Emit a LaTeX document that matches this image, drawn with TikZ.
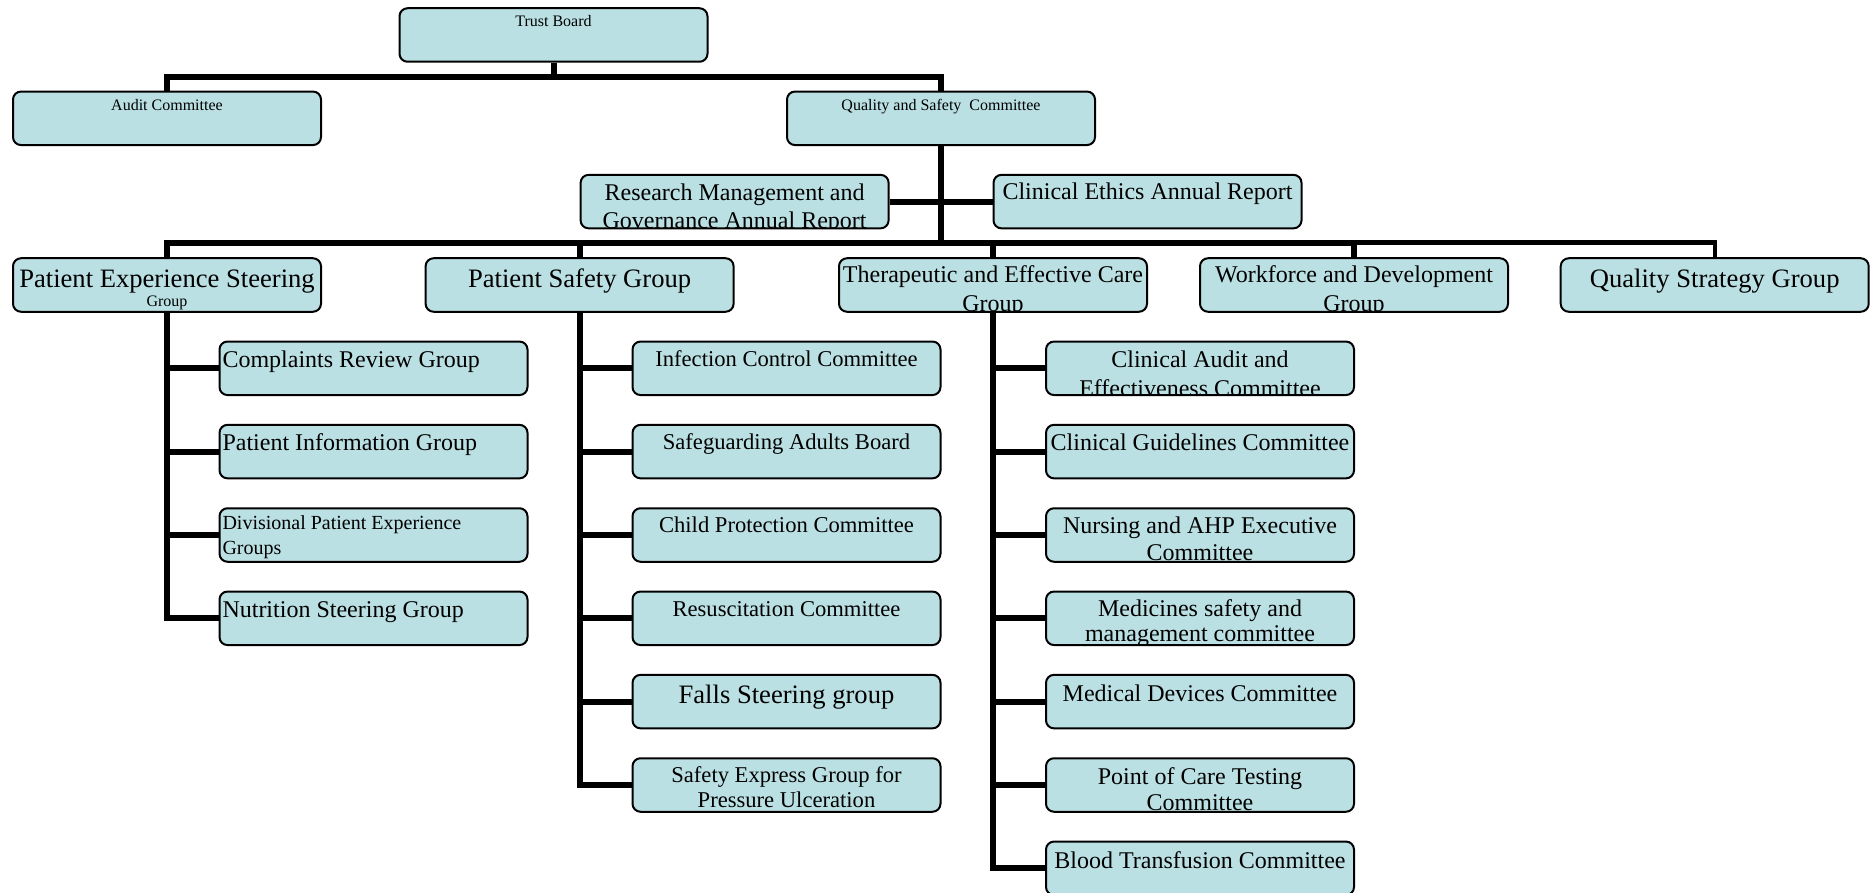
\documentclass[tikz,border=0pt]{standalone}
\usepackage{fontspec}
\setmainfont{Liberation Serif}
\usetikzlibrary{backgrounds}
\definecolor{boxfill}{RGB}{187,224,227}
\tikzset{
  box/.style={shape=rectangle, draw=black, line width=2pt, fill=boxfill,
    rounded corners=8pt, minimum width=308pt, minimum height=53.5pt, inner sep=0pt},
  boxtext/.style={inner sep=0pt, minimum width=0pt, minimum height=0pt, draw=none, fill=none},
  conn/.style={draw=black, line width=6pt, line join=miter, line cap=butt},
  thinconn/.style={draw=black, line width=4.3pt, line join=miter, line cap=butt}
}
\newcommand\fSm{\fontsize{16}{19}\selectfont}
\newcommand\fMd{\fontsize{24}{28}\selectfont}
\newcommand\fMi{\fontsize{22.6}{26}\selectfont}
\newcommand\fLg{\fontsize{26.6}{30}\selectfont}
\newcommand\fDv{\fontsize{20}{24}\selectfont}
% centred text line: baseline offset from top, font, text
\newcommand\tlc[3]{\node[boxtext, anchor=base, font=#2] at ([yshift=-#1pt]path picture bounding box.north) {#3};}
% left aligned text line
\newcommand\tll[3]{\node[boxtext, anchor=base west, font=#2] at ([xshift=2pt,yshift=-#1pt]path picture bounding box.north west) {#3};}
\begin{document}
\begin{tikzpicture}[x=1pt,y=-1pt]
\useasboundingbox (0,0) rectangle (1870,893);

% ---- top levels
\node[box, path picture={\tlc{18.5}{\fSm}{Trust Board}}] (tb) at (553.5,35) {};
\node[box, path picture={\tlc{19}{\fSm}{Audit Committee}}] (ac) at (167,118.3) {};
\node[box, path picture={\tlc{18.5}{\fSm}{Quality and Safety\ \ Committee}}] (qsc) at (941,118.3) {};
\node[box, path picture={\tlc{25.5}{\fMd}{Research Management and}\tlc{54}{\fMd}{Governance Annual Report}}] (rm) at (734.6,201.6) {};
\node[box, path picture={\tlc{25}{\fMd}{Clinical Ethics Annual Report}}] (ce) at (1147.5,201.6) {};

% ---- groups
\node[box, path picture={\tlc{29.5}{\fLg}{Patient Experience Steering}\tlc{48.5}{\fSm}{Group}}] (pes) at (167,285) {};
\node[box, path picture={\tlc{29.5}{\fLg}{Patient Safety Group}}] (psg) at (579.6,285) {};
\node[box, path picture={\tlc{24.5}{\fMd}{Therapeutic and Effective Care}\tlc{53.5}{\fMd}{Group}}] (tec) at (993,285) {};
\node[box, path picture={\tlc{24.5}{\fMd}{Workforce and Development}\tlc{53.5}{\fMd}{Group}}] (wdg) at (1354,285) {};
\node[box, path picture={\tlc{29.5}{\fLg}{Quality Strategy Group}}] (qsg) at (1714.7,285) {};

% ---- patient experience children
\node[box, path picture={\tll{25.5}{\fMd}{Complaints Review Group}}] (lk1) at (373.5,368.3) {};
\node[box, path picture={\tll{25.5}{\fMd}{Patient Information Group}}] (lk2) at (373.5,451.6) {};
\node[box, path picture={\tll{21}{\fDv}{Divisional Patient Experience}\tll{46}{\fDv}{Groups}}] (lk3) at (373.5,535) {};
\node[box, path picture={\tll{25.5}{\fMd}{Nutrition Steering Group}}] (lk4) at (373.5,618.3) {};

% ---- patient safety children
\node[box, path picture={\tlc{24.5}{\fMi}{Infection Control Committee}}] (mk1) at (786.5,368.3) {};
\node[box, path picture={\tlc{24.5}{\fMi}{Safeguarding Adults Board}}] (mk2) at (786.5,451.6) {};
\node[box, path picture={\tlc{24.5}{\fMi}{Child Protection Committee}}] (mk3) at (786.5,535) {};
\node[box, path picture={\tlc{24.5}{\fMi}{Resuscitation Committee}}] (mk4) at (786.5,618.3) {};
\node[box, path picture={\tlc{28.5}{\fLg}{Falls Steering group}}] (mk5) at (786.5,701.6) {};
\node[box, path picture={\tlc{24.5}{\fMi}{Safety Express Group for}\tlc{49.5}{\fMi}{Pressure Ulceration}}] (mk6) at (786.5,785) {};

% ---- therapeutic children
\node[box, path picture={\tlc{25.5}{\fMd}{Clinical Audit and}\tlc{54.8}{\fMd}{Effectiveness Committee}}] (rk1) at (1200,368.3) {};
\node[box, path picture={\tlc{26}{\fMd}{Clinical Guidelines Committee}}] (rk2) at (1200,451.6) {};
\node[box, path picture={\tlc{25.3}{\fMd}{Nursing and AHP Executive}\tlc{52.3}{\fMd}{Committee}}] (rk3) at (1200,535) {};
\node[box, path picture={\tlc{25}{\fMd}{Medicines safety and}\tlc{50}{\fMd}{management committee}}] (rk4) at (1200,618.3) {};
\node[box, path picture={\tlc{27}{\fMd}{Medical Devices Committee}}] (rk5) at (1200,701.6) {};
\node[box, path picture={\tlc{26}{\fMd}{Point of Care Testing}\tlc{52.7}{\fMd}{Committee}}] (rk6) at (1200,785) {};
\node[box, path picture={\tlc{26.5}{\fMd}{Blood Transfusion Committee}}] (rk7) at (1200,868.3) {};

\coordinate (b1) at (553.5,77);
\coordinate (b2) at (941,243.5);
\coordinate (b2t) at (941,242.4);

\begin{scope}[on background layer]
  \draw[conn] (tb.south) -- (tb.south |- b1);
  \draw[conn] (ac.north) -- (ac.north |- b1) -- (qsc.north |- b1) -- (qsc.north);
  \draw[conn] (rm.east) -- (ce.west);
  \draw[conn] (qsc.south) -- (qsc.south |- b2);
  \draw[conn] (pes.north) -- (pes.north |- b2) -- (wdg.north |- b2);
  \draw[thinconn] (wdg.north |- b2t) -- (qsg.north |- b2t) -- (qsg.north);
  \draw[conn] (psg.north |- b2) -- (psg.north);
  \draw[conn] (tec.north |- b2) -- (tec.north);
  \draw[conn] (wdg.north |- b2) -- (wdg.north);
  % children
  \draw[conn] (pes.south) |- (lk4.west);
  \foreach \n in {lk1,lk2,lk3} \draw[conn] (pes.south |- \n.west) -- (\n.west);
  \draw[conn] (psg.south) |- (mk6.west);
  \foreach \n in {mk1,mk2,mk3,mk4,mk5} \draw[conn] (psg.south |- \n.west) -- (\n.west);
  \draw[conn] (tec.south) |- (rk7.west);
  \foreach \n in {rk1,rk2,rk3,rk4,rk5,rk6} \draw[conn] (tec.south |- \n.west) -- (\n.west);
\end{scope}
\end{tikzpicture}
\end{document}
